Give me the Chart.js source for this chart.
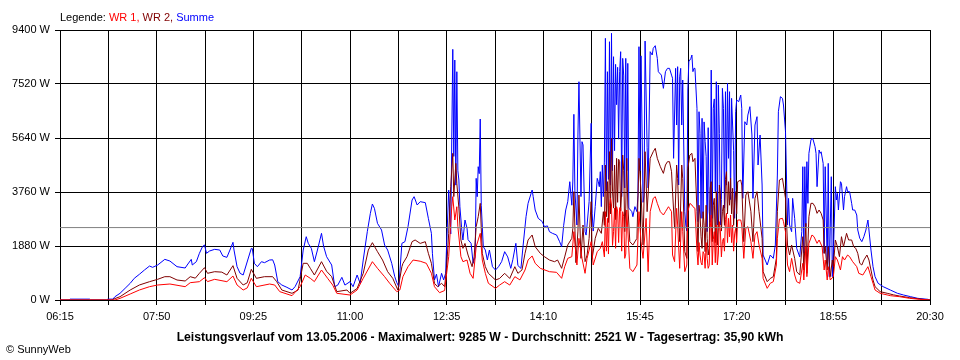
<!DOCTYPE html>
<html><head><meta charset="utf-8">
<script src="https://cdn.jsdelivr.net/npm/chart.js@4/dist/chart.umd.min.js"></script>
<style>html,body{margin:0;padding:0;background:#fff}canvas{display:block}</style>
</head><body>
<canvas id="c" width="960" height="360"></canvas>
<script>
// time axis in minutes after midnight: 06:15 .. 20:30
const timeStart = 375;
const timeEnd = 1230;
const timeGridStep = 47.5;
const powerMax = 9400;
const powerStep = 1880;
const averagePower = 2521;

// [minute, watt]
const summe = [[375,0],[384,0],[385,30],[404,30],[405,0],[421,0],[422,30],[427,30],[429,115],[434,233],[439,407],[444,581],[448,755],[453,894],[458,1044],[463,1183],[466,1137],[471,1218],[478,1415],[483,1357],[490,1160],[498,1114],[500,1218],[504,1415],[505,1218],[509,1334],[512,1625],[515,1856],[517,1915],[519,1625],[522,1706],[527,1764],[532,1740],[535,1532],[539,1485],[542,1740],[545,2008],[546,1740],[549,1160],[552,929],[555,870],[558,1218],[563,1798],[564,1790],[566,1277],[569,1160],[573,1334],[576,1300],[581,1392],[584,1400],[586,1218],[589,638],[593,522],[598,441],[603,348],[606,464],[611,812],[614,1740],[617,2204],[619,1973],[622,1798],[625,1334],[628,1740],[632,2321],[634,1880],[637,1508],[642,1218],[645,464],[648,520],[652,789],[655,520],[660,638],[663,464],[667,870],[670,580],[673,1392],[677,2379],[680,3017],[682,3342],[684,3191],[687,2669],[691,2437],[694,1915],[697,1740],[701,1277],[704,812],[706,603],[708,464],[711,1973],[714,2031],[717,2553],[721,3481],[723,3597],[726,3307],[729,3423],[734,3390],[737,2843],[740,2321],[741,1625],[743,696],[745,900],[747,464],[750,929],[752,700],[754,929],[755,1973],[757,3829],[759,2300],[760,5570],[761,8727],[762,5000],[763,8354],[764,4000],[765,7948],[766,4500],[767,4177],[768,3248],[770,2379],[771,2089],[773,2785],[775,2500],[776,2100],[779,1973],[781,1277],[783,1500],[784,4235],[785,3597],[786,4641],[787,4400],[788,6301],[789,3300],[791,1856],[793,1740],[795,1392],[797,1740],[800,1160],[803,1044],[806,1160],[809,1334],[812,1683],[815,1500],[818,1103],[820,1400],[823,1973],[825,1200],[828,1100],[830,1850],[833,2901],[835,3365],[838,3713],[839,3829],[840,3600],[842,3133],[845,2843],[849,2727],[851,2553],[854,2580],[856,2379],[859,2320],[863,2263],[866,2031],[868,1856],[870,2600],[872,3133],[874,3423],[876,4119],[878,3300],[879,4142],[880,6464],[881,3800],[883,2611],[884,5744],[885,7599],[887,3600],[888,5512],[889,5400],[891,2379],[892,2260],[893,2611],[895,3423],[897,6151],[898,3000],[899,2400],[901,3250],[903,4235],[904,4120],[905,3945],[906,4467],[907,3250],[908,4699],[909,3600],[910,4800],[911,9110],[912,3800],[913,7948],[914,4200],[915,8992],[916,4000],[917,9285],[918,4500],[919,8470],[920,5200],[921,8204],[922,6800],[923,8100],[924,5600],[925,7948],[926,8645],[927,3600],[928,8412],[929,7800],[930,3900],[931,8412],[932,4500],[933,8238],[934,3200],[937,3075],[938,2900],[940,3250],[942,3075],[943,3650],[944,8819],[945,4500],[946,8500],[948,3400],[949,3650],[950,9015],[952,5300],[953,3900],[955,8645],[957,8530],[958,8761],[960,8854],[962,8410],[963,7948],[966,7830],[968,7369],[970,7948],[972,8065],[974,8065],[976,7830],[977,7720],[978,4932],[980,8065],[981,6092],[982,8123],[983,4003],[984,7770],[985,8065],[986,6092],[987,7659],[989,3075],[990,2611],[991,2400],[992,7311],[993,8296],[995,8412],[996,8529],[997,7950],[998,8065],[999,8065],[1001,6673],[1002,2727],[1003,6555],[1004,5800],[1005,2843],[1006,6325],[1007,2843],[1008,6200],[1009,5512],[1010,5000],[1011,2379],[1012,6000],[1013,3075],[1014,2700],[1015,8006],[1016,2843],[1017,6673],[1018,7000],[1019,3771],[1020,7599],[1021,2611],[1022,7484],[1023,5800],[1024,2611],[1025,3500],[1026,7369],[1027,6673],[1028,3200],[1029,7252],[1030,4000],[1031,7543],[1032,4932],[1033,7252],[1034,3500],[1035,7020],[1036,6092],[1037,5200],[1038,2843],[1039,6555],[1040,6962],[1042,6904],[1044,7136],[1045,6673],[1046,3539],[1048,6207],[1050,6092],[1051,6440],[1053,6731],[1055,5744],[1056,3539],[1058,6092],[1060,6382],[1061,4700],[1063,5744],[1065,4003],[1066,1566],[1070,1218],[1073,1566],[1076,1450],[1078,1915],[1080,4351],[1081,6555],[1083,7078],[1085,7020],[1086,6788],[1088,5860],[1090,2611],[1091,3539],[1092,2611],[1094,2379],[1095,3539],[1097,2843],[1099,1798],[1102,1500],[1104,2379],[1105,4641],[1106,1625],[1107,4641],[1108,2553],[1109,4815],[1110,3365],[1111,5106],[1113,5570],[1114,5628],[1115,5600],[1117,5338],[1118,5106],[1119,3945],[1121,5222],[1122,5106],[1123,5160],[1125,4757],[1126,1625],[1127,4641],[1129,1277],[1130,4757],[1131,812],[1133,4293],[1134,812],[1135,1625],[1137,3945],[1138,3481],[1139,3713],[1140,3133],[1142,4119],[1143,4061],[1145,3133],[1146,3597],[1148,3945],[1149,3771],[1151,3771],[1153,3365],[1154,3133],[1156,3133],[1158,2959],[1159,2437],[1161,2147],[1163,2031],[1165,2204],[1167,2437],[1169,2785],[1170,2437],[1172,1740],[1174,1160],[1176,812],[1179,581],[1184,464],[1191,348],[1198,233],[1204,174],[1211,115],[1218,58],[1228,23],[1230,0]];

const wr2 = [[375,0],[426,0],[429,50],[434,115],[444,348],[453,522],[463,638],[471,720],[478,812],[483,812],[490,696],[498,661],[503,812],[508,760],[512,929],[517,1125],[520,929],[527,986],[534,970],[539,870],[545,1195],[549,755],[555,522],[559,600],[563,1068],[568,755],[576,812],[584,812],[588,638],[593,348],[603,233],[609,348],[614,1277],[618,1277],[621,1103],[625,870],[632,1334],[637,1000],[642,812],[647,290],[657,348],[660,233],[667,400],[673,929],[678,1740],[682,1996],[687,1683],[692,1392],[697,986],[702,755],[707,348],[711,1160],[712,1270],[716,1508],[721,2031],[724,2089],[729,1970],[734,2030],[737,1625],[740,1277],[743,581],[746,464],[750,581],[753,464],[755,1160],[757,2321],[759,3945],[761,5106],[762,3600],[764,4757],[765,4061],[767,3200],[769,2089],[771,1798],[773,1970],[776,1566],[780,1160],[782,1500],[784,2553],[786,2901],[788,3365],[790,1625],[793,1160],[796,929],[803,696],[807,750],[812,929],[817,750],[822,1160],[825,929],[829,1044],[832,1625],[835,2089],[839,2263],[842,1856],[847,1625],[851,1510],[856,1392],[861,1334],[864,1392],[868,1103],[871,1500],[874,1915],[878,2147],[879,2495],[880,3771],[882,1300],[884,2400],[885,3655],[887,1450],[889,2611],[891,1334],[893,1566],[895,2147],[897,3423],[898,1450],[901,2147],[904,2495],[907,2320],[909,3075],[910,2600],[911,4699],[912,2900],[913,4119],[914,2700],[915,5163],[916,3000],[917,5628],[918,3771],[919,3200],[920,4699],[921,2800],[922,4932],[923,3400],[924,4900],[925,4815],[926,3100],[927,3771],[928,5048],[929,4500],[930,2379],[931,3200],[932,4932],[933,3307],[935,2031],[938,1915],[942,2147],[944,4932],[946,3771],[948,1915],[950,5163],[952,3075],[955,4932],[958,5163],[960,5280],[962,4932],[965,4641],[968,4409],[970,4700],[972,4815],[974,4815],[976,4467],[977,3771],[979,2495],[981,4699],[982,4235],[984,2031],[986,4699],[987,4235],[989,1683],[991,1450],[992,4583],[994,5048],[996,5106],[997,4815],[999,4932],[1001,3075],[1002,1683],[1003,3300],[1004,2959],[1005,2200],[1006,1798],[1007,3075],[1008,2600],[1009,1683],[1010,3300],[1011,2147],[1012,1566],[1013,1800],[1014,3900],[1015,4119],[1016,2031],[1017,3300],[1018,3539],[1019,2000],[1020,3771],[1021,1915],[1022,2500],[1023,4003],[1024,3700],[1025,2400],[1026,3075],[1027,3307],[1028,2600],[1029,4200],[1030,4467],[1031,3000],[1032,4119],[1033,3300],[1034,4235],[1035,3000],[1036,3887],[1037,2600],[1038,3400],[1039,3771],[1040,3000],[1041,4119],[1044,4177],[1045,4003],[1047,2031],[1049,3655],[1051,3771],[1054,3075],[1056,2031],[1058,3539],[1060,3771],[1062,3075],[1065,2147],[1066,986],[1070,638],[1073,750],[1076,812],[1079,1450],[1080,3075],[1082,4177],[1085,4235],[1086,4003],[1088,3539],[1090,1915],[1092,1566],[1094,1915],[1097,1450],[1099,986],[1102,870],[1105,2204],[1106,1044],[1108,2669],[1109,929],[1111,2901],[1113,3365],[1115,3365],[1117,3248],[1119,3017],[1121,3133],[1123,3017],[1125,2785],[1126,1625],[1127,1856],[1129,1044],[1130,1856],[1132,812],[1134,1392],[1135,1160],[1137,2089],[1139,1856],[1141,1508],[1143,2204],[1145,1856],[1148,2321],[1150,2089],[1153,2089],[1155,1856],[1157,1800],[1159,1625],[1161,1277],[1163,1218],[1165,1392],[1168,1566],[1170,1392],[1172,1044],[1174,696],[1176,464],[1181,290],[1188,233],[1194,180],[1200,139],[1210,81],[1220,35],[1230,0]];

const wr1 = [[375,0],[429,0],[434,58],[444,209],[453,348],[463,464],[471,522],[483,557],[498,464],[503,603],[512,638],[517,777],[520,640],[527,720],[539,638],[545,835],[549,522],[555,348],[559,420],[563,755],[568,464],[581,557],[586,522],[591,290],[603,151],[611,464],[616,870],[621,755],[625,640],[632,1044],[638,755],[643,522],[647,233],[660,174],[667,348],[673,755],[682,1334],[687,1103],[694,812],[699,581],[706,290],[709,350],[712,812],[717,1160],[722,1392],[729,1350],[735,1277],[740,929],[743,464],[748,255],[753,330],[755,929],[757,1508],[760,3248],[761,3597],[763,2785],[765,3248],[766,2553],[769,1508],[771,1334],[775,1392],[778,929],[781,755],[784,1856],[786,2089],[788,2321],[790,1392],[793,929],[796,581],[803,406],[807,520],[812,638],[817,520],[822,812],[827,700],[832,1044],[835,1392],[839,1532],[842,1277],[847,1103],[856,986],[863,963],[868,755],[871,1160],[874,1450],[878,1508],[880,2379],[883,1218],[885,2147],[888,1450],[891,929],[893,1450],[897,2031],[899,1218],[903,1683],[906,1798],[908,2031],[910,1500],[911,3075],[912,1700],[913,2843],[914,1600],[915,3300],[916,3539],[917,3307],[918,1900],[919,2379],[920,3200],[921,1800],[922,3248],[923,3100],[924,2000],[925,3214],[926,3200],[927,1700],[928,3075],[929,2900],[930,1450],[931,1600],[932,3133],[935,1103],[938,986],[942,1218],[944,3075],[946,2031],[948,1450],[951,2843],[953,986],[955,3075],[958,3539],[960,3597],[962,3365],[965,3075],[968,2959],[970,3075],[973,3248],[974,3191],[976,3075],[977,1566],[979,1334],[981,3191],[982,2611],[984,1103],[986,3075],[987,2379],[989,986],[991,1218],[992,3075],[994,3365],[996,3307],[997,3248],[999,3191],[1001,1683],[1002,1218],[1003,2000],[1004,1566],[1005,1300],[1006,1218],[1007,1683],[1008,1600],[1009,1103],[1010,2000],[1011,1450],[1012,1103],[1013,1200],[1014,2500],[1015,2959],[1016,1218],[1017,2100],[1018,2379],[1019,1300],[1020,2611],[1021,1218],[1022,1600],[1023,2727],[1024,2400],[1025,1500],[1026,2031],[1027,2147],[1028,1700],[1029,2800],[1030,3017],[1031,2000],[1032,2843],[1033,2200],[1034,2959],[1035,2000],[1036,2611],[1037,1700],[1038,2300],[1039,2495],[1040,2000],[1041,2785],[1044,2785],[1045,2611],[1047,1450],[1049,2495],[1051,2553],[1054,2031],[1056,1450],[1058,2263],[1060,2379],[1062,1915],[1065,1450],[1066,755],[1070,406],[1073,581],[1076,638],[1079,1218],[1080,2147],[1082,2820],[1085,2843],[1086,2727],[1088,2379],[1090,1218],[1092,986],[1094,1450],[1097,870],[1099,638],[1102,581],[1105,1277],[1106,696],[1108,1856],[1109,812],[1111,1973],[1114,2263],[1116,2204],[1119,1973],[1121,2089],[1124,1856],[1126,1044],[1127,1392],[1129,696],[1130,1160],[1132,696],[1135,812],[1137,1508],[1139,1392],[1142,1044],[1144,1508],[1146,1392],[1149,1566],[1151,1508],[1154,1334],[1158,1160],[1160,929],[1164,870],[1167,1044],[1169,1160],[1172,812],[1174,581],[1176,348],[1181,233],[1191,151],[1200,116],[1210,58],[1220,23],[1230,0]];

const legendTitle = "Legende:";
const seriesNames = ["WR 1", "WR 2", "Summe"];
const footerText = "Leistungsverlauf vom 13.05.2006 - Maximalwert: 9285 W - Durchschnitt: 2521 W - Tagesertrag: 35,90 kWh";
const copyrightText = "\u00A9 SunnyWeb";

const COLORS = { wr1: "#ff0000", wr2: "#800000", summe: "#0000ff", avg: "#808080" };
const FONT = '"Liberation Sans", Arial, sans-serif';

const toXY = arr => arr.map(p => ({ x: p[0], y: p[1] }));
const fmtTime = m => {
  const mm = Math.round(m);
  return String(Math.floor(mm / 60)).padStart(2, "0") + ":" + String(mm % 60).padStart(2, "0");
};

const textPlugin = {
  id: "texts",
  afterDraw(chart) {
    const ctx = chart.ctx;
    ctx.save();
    ctx.textBaseline = "alphabetic";
    ctx.textAlign = "left";
    ctx.font = "11px " + FONT;
    const parts = [[legendTitle + " ", "#000000"], [seriesNames[0] + ",", COLORS.wr1], [" " + seriesNames[1] + ",", COLORS.wr2], [" " + seriesNames[2], COLORS.summe]];
    let x = chart.chartArea.left;
    for (const [t, c] of parts) {
      ctx.fillStyle = c;
      ctx.fillText(t, x, 21);
      x += ctx.measureText(t).width;
    }
    // footer, sized to span the same width as the original caption
    ctx.font = "bold 12px " + FONT;
    const w = ctx.measureText(footerText).width;
    const size = Math.min(13, 12 * 607 / w);
    ctx.font = "bold " + size.toFixed(2) + "px " + FONT;
    ctx.fillStyle = "#000000";
    ctx.textAlign = "center";
    ctx.fillText(footerText, 480, 341);
    ctx.font = "11px " + FONT;
    ctx.textAlign = "left";
    ctx.fillText(copyrightText, 6, 353);
    ctx.restore();
  }
};

const bgPlugin = {
  id: "bg",
  beforeDraw(chart) {
    const ctx = chart.ctx;
    ctx.save();
    ctx.fillStyle = "#ffffff";
    ctx.fillRect(0, 0, chart.width, chart.height);
    ctx.restore();
  }
};

const lineDefaults = { borderWidth: 1, pointRadius: 0, tension: 0, fill: false };

new Chart(document.getElementById("c"), {
  type: "line",
  data: {
    datasets: [
      Object.assign({ label: "Durchschnitt", data: [{ x: timeStart, y: averagePower }, { x: timeEnd, y: averagePower }], borderColor: COLORS.avg, order: 0 }, lineDefaults),
      Object.assign({ label: seriesNames[0], data: toXY(wr1), borderColor: COLORS.wr1, order: 1 }, lineDefaults),
      Object.assign({ label: seriesNames[1], data: toXY(wr2), borderColor: COLORS.wr2, order: 2 }, lineDefaults),
      Object.assign({ label: seriesNames[2], data: toXY(summe), borderColor: COLORS.summe, order: 3 }, lineDefaults)
    ]
  },
  options: {
    responsive: false,
    devicePixelRatio: 1,
    animation: false,
    layout: { padding: { left: 0, top: 30, right: 30, bottom: 0 } },
    plugins: { legend: { display: false }, tooltip: { enabled: false }, title: { display: false } },
    scales: {
      x: {
        type: "linear",
        min: timeStart,
        max: timeEnd,
        z: 1,
        afterFit(s) { s.height = 60; },
        grid: { color: "#000000", lineWidth: 1, drawTicks: true, tickLength: 5, tickColor: "#000000" },
        border: { color: "#000000", width: 1 },
        ticks: {
          stepSize: timeGridStep,
          autoSkip: false,
          maxRotation: 0,
          padding: 5,
          color: "#000000",
          font: { family: FONT, size: 11 },
          callback: (v, i) => (i % 2 === 0 ? fmtTime(v) : "")
        }
      },
      y: {
        type: "linear",
        min: 0,
        max: powerMax,
        z: 1,
        afterFit(s) { s.width = 60; },
        grid: { color: "#000000", lineWidth: 1, drawTicks: true, tickLength: 5, tickColor: "#000000" },
        border: { color: "#000000", width: 1 },
        ticks: {
          stepSize: powerStep,
          padding: 5,
          color: "#000000",
          font: { family: FONT, size: 11 },
          callback: v => v + " W"
        }
      }
    }
  },
  plugins: [bgPlugin, textPlugin]
});
</script>
</body></html>
